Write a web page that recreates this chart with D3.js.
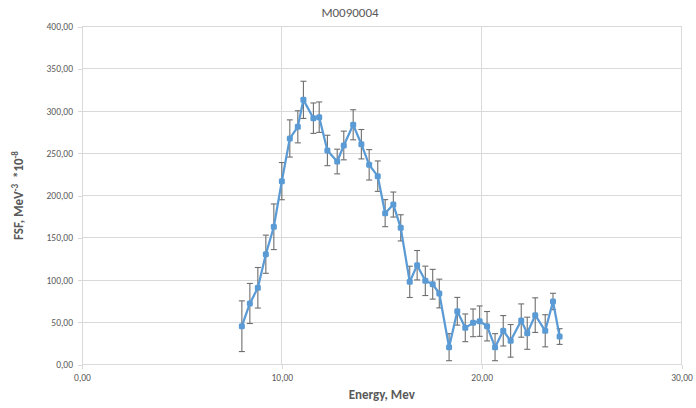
<!DOCTYPE html>
<html><head><meta charset="utf-8">
<script src="https://cdn.jsdelivr.net/npm/d3@7"></script>
<style>body{margin:0;background:#fff}svg{display:block;font-family:Calibri,Carlito,"Open Sans",sans-serif}</style>
</head><body><svg id="c" width="696" height="408"></svg>
<script>
const energy = [8.0,8.4,8.8,9.2,9.6,10.0,10.4,10.8,11.08,11.58,11.87,12.28,12.77,13.1,13.57,13.98,14.37,14.8,15.17,15.58,15.95,16.4,16.77,17.18,17.55,17.88,18.37,18.78,19.18,19.57,19.9,20.27,20.67,21.08,21.45,21.98,22.28,22.68,23.18,23.57,23.9];
const fsf = [45.3,72.2,90.8,130.5,163,217,267.5,281.3,313.2,291.5,292.7,253.3,240.2,259.2,283.7,260.7,236.3,222.9,179.1,189.3,161.7,97.8,117.5,99,95,84,20.5,63,43.4,49.3,51.3,45.3,20.5,39.9,28,52,37,58.4,39.9,74.6,33.1];
const err = [30,23.7,24,22.6,27,22,22,19,22,18,18,18,14.6,17,17.8,17.4,18,18,16,14.8,15.5,18.5,17.4,17.4,17.6,17,16,16.4,16.4,16.4,18,17.4,16,18,19.3,19.7,19,20.5,19,9.7,9.3];
const xTicks = [0,10,20,30];
const yTicks = [0,50,100,150,200,250,300,350,400];
const title = "M0090004";

const svg = d3.select("#c");
const x = d3.scaleLinear().domain([0,30]).range([82,681.5]);
const y = d3.scaleLinear().domain([0,400]).range([364.5,26.5]);
const fmt = v => d3.format(".2f")(v).replace(".", ",");
const grid = "#d9d9d9", txt = "#595959";

// horizontal gridlines
svg.append("g").selectAll("line").data(yTicks.slice(1)).join("line")
  .attr("x1", x(0)).attr("x2", x(30)).attr("y1", d=>y(d)).attr("y2", d=>y(d))
  .attr("stroke", grid).attr("stroke-width", 1).attr("shape-rendering","crispEdges");
// vertical gridlines
svg.append("g").selectAll("line").data(xTicks.slice(1)).join("line")
  .attr("x1", d=>x(d)).attr("x2", d=>x(d)).attr("y1", y(0)).attr("y2", y(400))
  .attr("stroke", grid).attr("stroke-width", 1).attr("shape-rendering","crispEdges");

// y axis
const ya = svg.append("g").attr("transform", `translate(${x(0)},0)`)
  .call(d3.axisLeft(y).tickValues(yTicks).tickFormat(fmt).tickSize(4).tickPadding(5));
// x axis
const xa = svg.append("g").attr("transform", `translate(0,${y(0)})`)
  .call(d3.axisBottom(x).tickValues(xTicks).tickFormat(fmt).tickSize(4).tickPadding(6));
[ya, xa].forEach(a => {
  a.selectAll("path,line").attr("stroke", grid).attr("shape-rendering","crispEdges");
  a.select(".domain").attr("d", a === ya ? `M0,${y(0)}V${y(400)}` : `M${x(0)},0H${x(30)}`);
  a.selectAll("text").attr("fill", txt).attr("font-size", 9.5).attr("font-family","Calibri,Carlito,'Open Sans',sans-serif");
});

const data = energy.map((e,i)=>({e, v:fsf[i], s:err[i]}));
// error bars
const eb = svg.append("g").attr("stroke", "#6e6e6e").attr("stroke-width", 1.1);
eb.selectAll("line.v").data(data).join("line").attr("class","v")
  .attr("x1", d=>x(d.e)).attr("x2", d=>x(d.e)).attr("y1", d=>y(d.v+d.s)).attr("y2", d=>y(d.v-d.s));
eb.selectAll("line.t").data(data).join("line").attr("class","t")
  .attr("x1", d=>x(d.e)-3).attr("x2", d=>x(d.e)+3).attr("y1", d=>y(d.v+d.s)).attr("y2", d=>y(d.v+d.s));
eb.selectAll("line.b").data(data).join("line").attr("class","b")
  .attr("x1", d=>x(d.e)-3).attr("x2", d=>x(d.e)+3).attr("y1", d=>y(d.v-d.s)).attr("y2", d=>y(d.v-d.s));

// line
svg.append("path").datum(data)
  .attr("d", d3.line().x(d=>x(d.e)).y(d=>y(d.v)))
  .attr("fill","none").attr("stroke","#5b9bd5").attr("stroke-width",2.25).attr("stroke-linejoin","round");
// markers
svg.append("g").selectAll("rect").data(data).join("rect")
  .attr("x", d=>x(d.e)-3).attr("y", d=>y(d.v)-3).attr("width",6).attr("height",6).attr("rx",1.5)
  .attr("fill","#5b9bd5");

// title
svg.append("text").attr("x", 350).attr("y", 17).attr("text-anchor","middle")
  .attr("fill", txt).attr("font-size", 13).text(title);
// x title
svg.append("text").attr("x", x(15)).attr("y", 399).attr("text-anchor","middle")
  .attr("fill", txt).attr("font-size", 13).attr("font-weight","bold").text("Energy, Mev");
// y title
const yt = svg.append("text").attr("transform", `translate(23,${(y(0)+y(400))/2}) rotate(-90)`)
  .attr("text-anchor","middle").attr("fill", txt).attr("font-size", 13).attr("font-weight","bold");
yt.append("tspan").text("FSF, MeV");
yt.append("tspan").attr("dy",-5).attr("font-size",9).text("-3");
yt.append("tspan").attr("dy",5).text("\u00a0\u00a0*10");
yt.append("tspan").attr("dy",-5).attr("font-size",9).text("-8");
</script></body></html>
